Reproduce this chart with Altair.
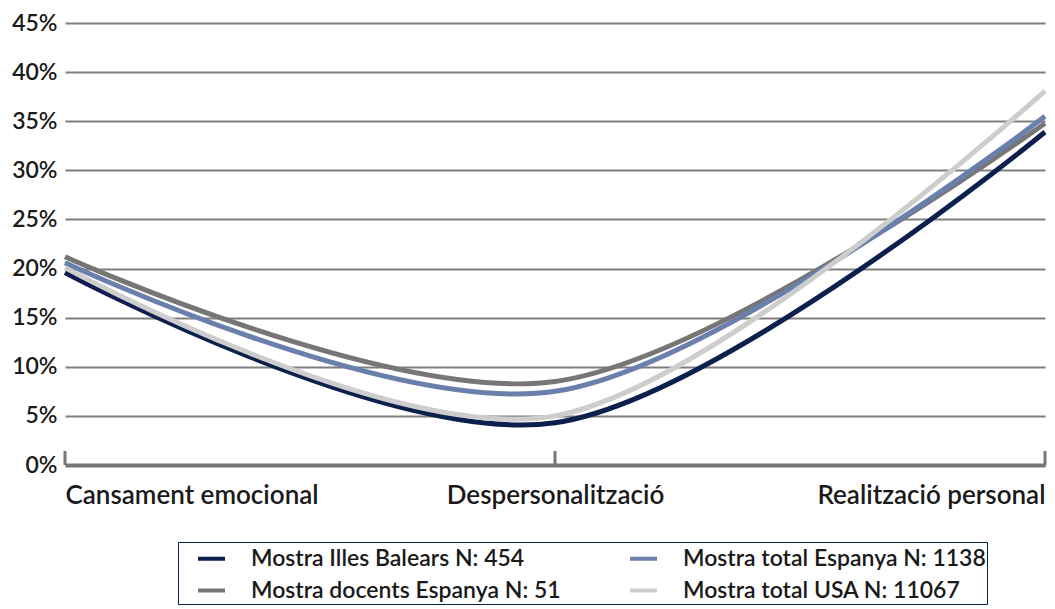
import altair as alt
import pandas as pd

categories = ["Cansament emocional", "Despersonalització", "Realització personal"]
# legend fills column by column: this order gives the reference's rows
series_names = [
    "Mostra Illes Balears N: 454",
    "Mostra docents Espanya N: 51",
    "Mostra total Espanya N: 1138",
    "Mostra total USA N: 11067",
]
balears = [0.196, 0.043, 0.339]
docents_espanya = [0.212, 0.085, 0.348]
total_espanya = [0.206, 0.075, 0.355]
total_usa = [0.201, 0.050, 0.381]
series_values = [balears, docents_espanya, total_espanya, total_usa]
series_colors = ["#0c1f4d", "#767676", "#6a7fab", "#cdcdcd"]
y_ticks = [0, 0.05, 0.10, 0.15, 0.20, 0.25, 0.30, 0.35, 0.40, 0.45]

rows = []
for i, (name, vals) in enumerate(zip(series_names, series_values)):
    for c, v in zip(categories, vals):
        rows.append({"serie": name, "cat": c, "val": v, "z": i})
df = pd.DataFrame(rows)
cat_df = pd.DataFrame({"cat": categories})

FONT = "Lato"
TXT = "#1a1a1a"
W = 600

x_axis = alt.Axis(title=None, labelAngle=0, labelFlush=True, ticks=False,
                  domain=True, domainColor="#777777", domainWidth=4,
                  labelFont=FONT, labelFontSize=26, labelFontWeight=W, labelLimit=0,
                  labelColor=TXT, labelPadding=17, grid=False)
x_scale = alt.Scale(type="point", padding=0)
y_scale = alt.Scale(domain=[0, 0.45], nice=False)

lines = alt.Chart(df).mark_line(interpolate="cardinal", strokeWidth=5, strokeCap="butt").encode(
    x=alt.X("cat:N", sort=categories, scale=x_scale, axis=x_axis),
    y=alt.Y("val:Q", scale=y_scale,
            axis=alt.Axis(title=None, values=y_ticks, format=".0%", grid=True,
                          gridColor="#7f7f7f", gridWidth=2, domain=False, ticks=False,
                          labelFont=FONT, labelFontSize=23, labelFontWeight=W,
                          labelColor=TXT, labelPadding=8)),
    color=alt.Color("serie:N", sort=series_names,
                    scale=alt.Scale(domain=series_names, range=series_colors),
                    legend=alt.Legend(orient="none", legendX=113, legendY=519, columns=2,
                                      title=None, symbolType="stroke", symbolSize=729,
                                      symbolStrokeWidth=4, symbolOffset=17,
                                      labelFont=FONT, labelFontSize=23,
                                      labelFontWeight=W, labelColor=TXT, labelLimit=0,
                                      strokeColor="#0c1f4d", padding=1, columnPadding=50,
                                      rowPadding=4, labelOffset=24)),
    order=alt.Order("z:Q"),
)

ticks = alt.Chart(cat_df).mark_rule(color="#777777", strokeWidth=3).encode(
    x=alt.X("cat:N", sort=categories, scale=x_scale, axis=x_axis),
    y=alt.value(428),
    y2=alt.value(442),
)

chart = alt.layer(ticks, lines).properties(
    width=980, height=442,
    autosize=alt.AutoSizeParams(type="none"),
    padding={"left": 57, "top": 15, "right": 2, "bottom": 142},
).configure_view(stroke=None)

chart.save("out.html", embed_options={"renderer": "svg", "actions": False})
